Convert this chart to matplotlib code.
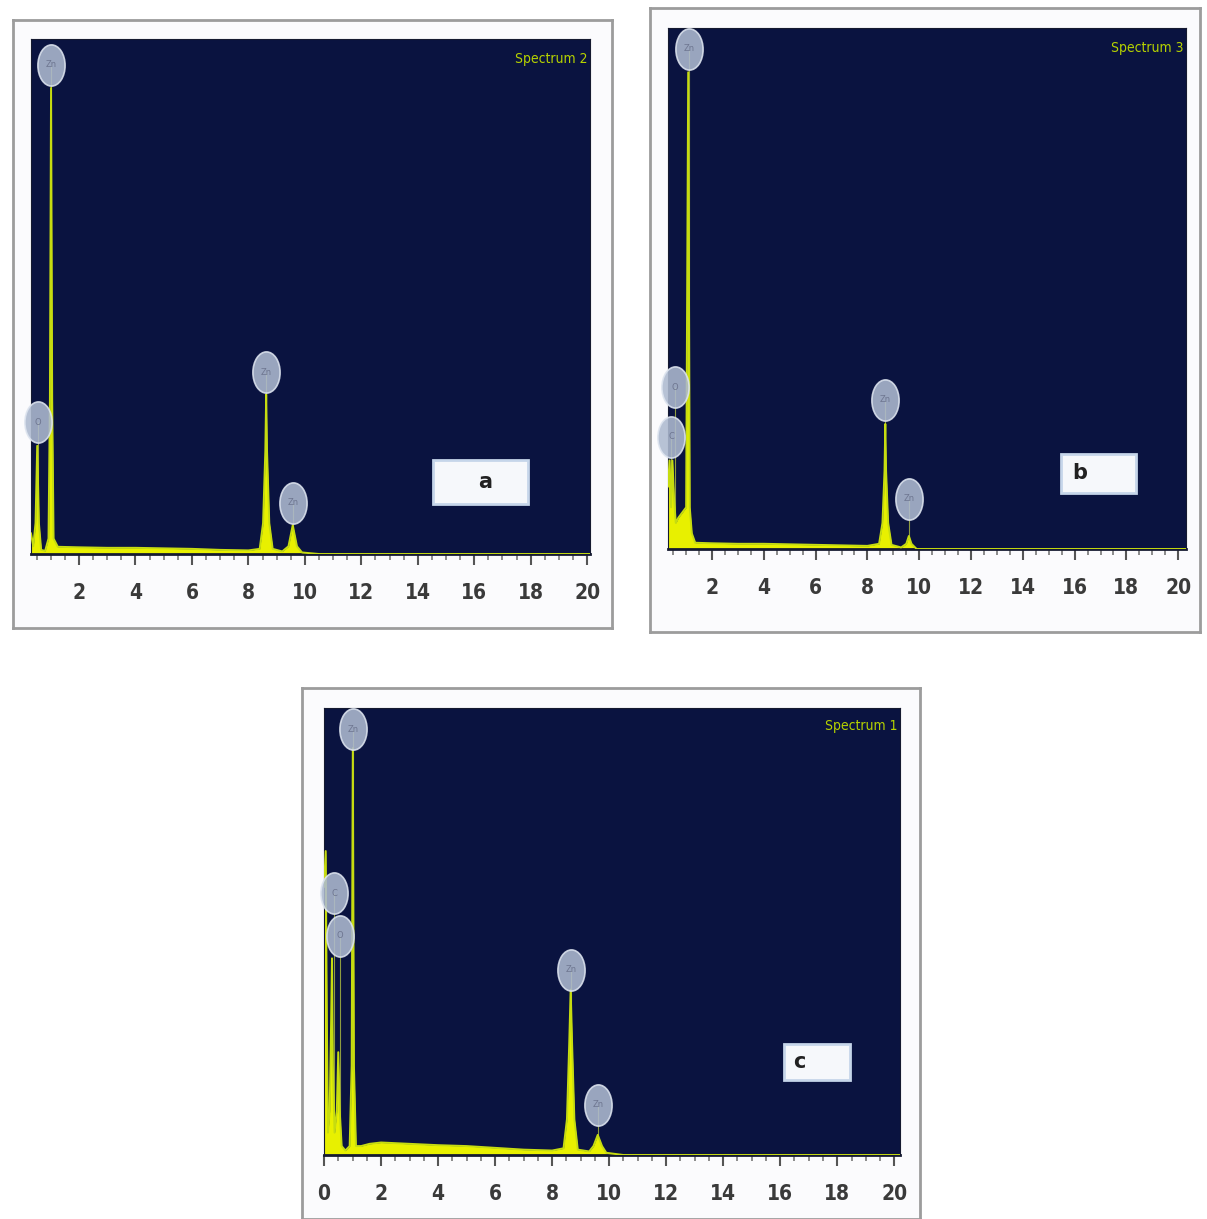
import matplotlib
matplotlib.use("Agg")
import matplotlib.pyplot as plt
from matplotlib.path import Path
from matplotlib.transforms import Affine2D
from matplotlib.patches import Rectangle

# spectrum a (Spectrum 2)
energy_a = [0.30, 0.38, 0.46, 0.52, 0.58, 0.66, 0.80, 0.92, 0.97, 1.01, 1.05, 1.10, 1.25,
            2.0, 3.0, 4.0, 5.0, 6.0, 7.0, 8.0, 8.40, 8.52, 8.60, 8.63, 8.66, 8.74, 8.86,
            9.20, 9.42, 9.57, 9.72, 9.90, 10.5, 20.1]
counts_a = [0.04, 0.015, 0.06, 0.21, 0.06, 0.008, 0.006, 0.03, 0.30, 0.905, 0.30, 0.03, 0.014,
            0.013, 0.012, 0.012, 0.011, 0.010, 0.008, 0.007, 0.010, 0.06, 0.20, 0.31, 0.20, 0.06, 0.010,
            0.005, 0.015, 0.056, 0.015, 0.003, 0.0, 0.0]
mark_e_a = [1.01, 0.55, 8.63, 9.57]
mark_h_a = [0.95, 0.256, 0.353, 0.10]
mark_el_a = ['Zn', 'O', 'Zn', 'Zn']

# spectrum b (Spectrum 3)
energy_b = [0.30, 0.36, 0.42, 0.47, 0.53, 0.60, 0.70, 0.85, 1.00, 1.08, 1.14, 1.22, 1.35,
            2.0, 3.0, 4.0, 5.0, 6.0, 7.0, 8.0, 8.45, 8.58, 8.66, 8.69, 8.72, 8.80, 8.93,
            9.30, 9.50, 9.60, 9.70, 9.90, 20.3]
counts_b = [0.12, 0.17, 0.08, 0.17, 0.10, 0.05, 0.06, 0.07, 0.08, 0.915, 0.08, 0.03, 0.012,
            0.011, 0.010, 0.010, 0.009, 0.008, 0.007, 0.006, 0.010, 0.05, 0.15, 0.24, 0.15, 0.05, 0.008,
            0.003, 0.010, 0.025, 0.010, 0.0, 0.0]
mark_e_b = [1.10, 0.58, 0.43, 8.69, 9.60]
mark_h_b = [0.96, 0.31, 0.215, 0.286, 0.096]
mark_el_b = ['Zn', 'O', 'C', 'Zn', 'Zn']

# spectrum c (Spectrum 1)
energy_c = [0.0, 0.06, 0.10, 0.14, 0.20, 0.25, 0.28, 0.31, 0.37, 0.45, 0.50, 0.55, 0.62, 0.75,
            0.90, 0.97, 1.01, 1.05, 1.12, 1.3, 1.6, 2.0, 3.0, 4.0, 5.0, 6.0, 7.0, 8.0,
            8.40, 8.52, 8.60, 8.65, 8.70, 8.78, 8.90, 9.30, 9.45, 9.60, 9.75, 9.90, 10.5, 20.2]
counts_c = [0.60, 0.68, 0.30, 0.05, 0.10, 0.30, 0.44, 0.20, 0.05, 0.10, 0.23, 0.10, 0.02, 0.01,
            0.02, 0.20, 0.91, 0.20, 0.02, 0.02, 0.025, 0.028, 0.025, 0.022, 0.020, 0.016, 0.012, 0.010,
            0.015, 0.08, 0.25, 0.37, 0.25, 0.08, 0.012, 0.008, 0.02, 0.045, 0.02, 0.005, 0.0, 0.0]
mark_e_c = [1.03, 0.35, 0.56, 8.67, 9.60]
mark_h_c = [0.953, 0.586, 0.49, 0.414, 0.112]
mark_el_c = ['Zn', 'C', 'O', 'Zn', 'Zn']

W, H = 1207, 1219
NAVY = '#0a1340'
YELLOW = '#e8f000'

oval = Path.unit_circle().transformed(Affine2D().scale(0.66, 1.0))


def box(x0, y0, x1, y1):
    return [x0 / W, 1 - y1 / H, (x1 - x0) / W, (y1 - y0) / H]


def panel(fig, frame, inner, energy, counts, mark_e, mark_h, mark_el, xlim, first_label,
          spectrum, letter, letter_box, letter_xy):
    fr = fig.add_axes(box(*frame))
    fr.set_facecolor('#fbfbfd')
    fr.set_xticks([])
    fr.set_yticks([])
    for s in fr.spines.values():
        s.set_color('#9c9c9c')
        s.set_linewidth(2)

    ax = fig.add_axes(box(*inner))
    ax.set_facecolor(NAVY)
    ax.fill_between(energy, counts, color=YELLOW, lw=0, zorder=2)
    ax.plot(energy, counts, color='#c6dc10', lw=1.4, zorder=3)
    ax.vlines(mark_e, 0, mark_h, color='#b0c040', lw=0.8, alpha=0.8, zorder=1)
    ax.scatter(mark_e, mark_h, marker=oval, s=880, color='#aebad0', edgecolors='#dde4ef',
               linewidths=1.2, alpha=0.88, zorder=4, clip_on=False)
    for e, h, el in zip(mark_e, mark_h, mark_el):
        ax.text(e, h, el, ha='center', va='center', fontsize=6, color='#6e7690', zorder=5)
    ax.set_yticks([])
    ax.set_xticks(list(range(first_label, 21, 2)))
    ax.set_xticks([v * 0.5 for v in range(0, 41)], minor=True)
    # ticks can widen the view, so the limits go last
    ax.set_xlim(*xlim)
    ax.set_ylim(0, 1)
    ax.tick_params(axis='x', which='major', direction='out', length=8, width=1.5,
                   color='#555555', pad=13, labelsize=15, labelcolor='#3a3a3a')
    ax.tick_params(axis='x', which='minor', direction='out', length=4, width=1.2, color='#777777')
    for lab in ax.get_xticklabels():
        lab.set_fontweight('bold')
        lab.set_fontstretch('condensed')
    for s in ax.spines.values():
        s.set_color('#151a30')
    ax.spines['bottom'].set_linewidth(2)
    ax.text(0.995, 0.975, spectrum, transform=ax.transAxes, ha='right', va='top',
            fontsize=10, color='#b6d200', fontstretch='condensed')
    ax.add_patch(Rectangle(letter_box[:2], letter_box[2], letter_box[3], transform=ax.transAxes,
                           facecolor='#f6f8fb', edgecolor='#c6d6ea', lw=2, zorder=6))
    ax.text(letter_xy[0], letter_xy[1], letter, transform=ax.transAxes, ha='center', va='center',
            fontsize=15, fontweight='bold', color='#222222', zorder=7)
    return ax


fig = plt.figure(figsize=(W / 100, H / 100), dpi=100)
fig.patch.set_facecolor('white')

panel(fig, (13, 20, 612, 628), (31, 39, 590, 554), energy_a, counts_a,
      mark_e_a, mark_h_a, mark_el_a, (0.3, 20.1), 2, 'Spectrum 2', 'a',
      (0.719, 0.097, 0.170, 0.085), (0.812, 0.14))
panel(fig, (650, 8, 1200, 632), (668, 28, 1186, 549), energy_b, counts_b,
      mark_e_b, mark_h_b, mark_el_b, (0.3, 20.3), 2, 'Spectrum 3', 'b',
      (0.759, 0.107, 0.145, 0.075), (0.795, 0.146))
panel(fig, (302, 688, 920, 1219), (324, 708, 900, 1155), energy_c, counts_c,
      mark_e_c, mark_h_c, mark_el_c, (0.0, 20.2), 0, 'Spectrum 1', 'c',
      (0.799, 0.168, 0.115, 0.081), (0.826, 0.208))

fig.savefig('out.png', dpi=100, facecolor='white')
